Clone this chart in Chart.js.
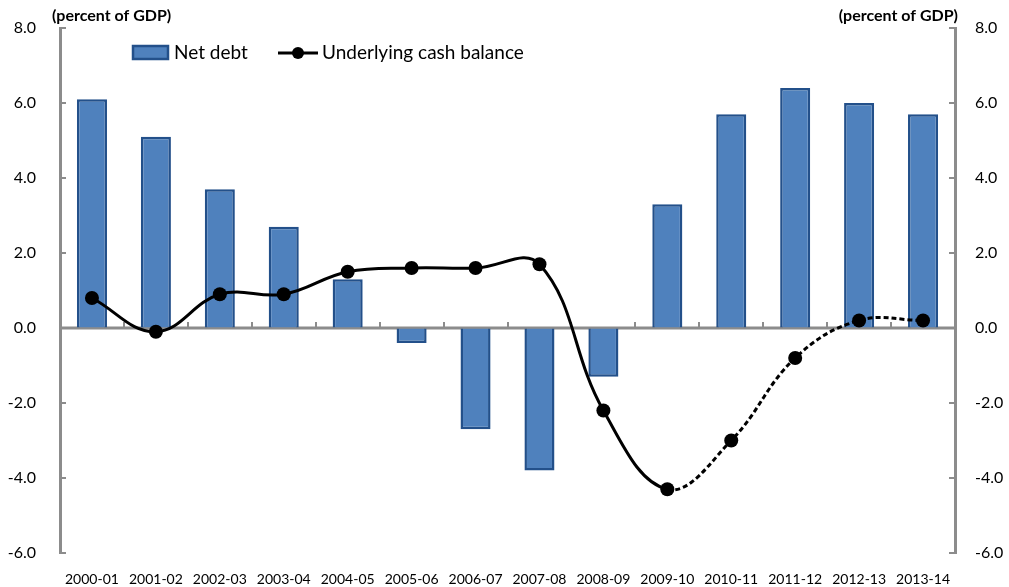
<!DOCTYPE html>
<html>
<head>
<meta charset="utf-8">
<script src="https://cdn.jsdelivr.net/npm/chart.js@4/dist/chart.umd.min.js"></script>
<style>
  html, body { margin: 0; padding: 0; background: #fff; }
  #wrap { position: relative; width: 1009px; height: 587px; }
</style>
</head>
<body>
<div id="wrap"><canvas id="chart" width="1009" height="587"></canvas></div>
<script>
// Fiscal years
const years = ['2000-01', '2001-02', '2002-03', '2003-04', '2004-05', '2005-06', '2006-07',
    '2007-08', '2008-09', '2009-10', '2010-11', '2011-12', '2012-13', '2013-14'];

// Net debt (percent of GDP)
const netDebt = [6.1, 5.1, 3.7, 2.7, 1.3, -0.4, -2.7, -3.8, -1.3, 3.3, 5.7, 6.4, 6.0, 5.7];

// Underlying cash balance (percent of GDP); projections from 2009-10 on are dashed
const cashBalance = [0.8, -0.1, 0.9, 0.9, 1.5, 1.6, 1.6, 1.7, -2.2, -4.3, -3.0, -0.8, 0.2, 0.2];
const projectionStart = 9;

const yTicks = [8, 6, 4, 2, 0, -2, -4, -6];

const axisGrey = '#8c8c8c';
const barFill = '#4F81BD';
const barEdge = '#23508A';
const fontFamily = 'Lato, "Open Sans", sans-serif';

// Extra drawing: zero axis, inward ticks, titles and legend
const decorations = {
    id: 'decorations',
    beforeDatasetsDraw(chart) {
        const ctx = chart.ctx;
        const area = chart.chartArea;
        const y = chart.scales.y;
        const zero = y.getPixelForValue(0);
        ctx.save();
        ctx.strokeStyle = axisGrey;
        ctx.lineWidth = 3;
        ctx.beginPath();
        ctx.moveTo(area.left, zero);
        ctx.lineTo(area.right, zero);
        ctx.stroke();

        // category boundary ticks on the zero line
        ctx.lineWidth = 2;
        const step = (area.right - area.left) / years.length;
        for (let i = 1; i < years.length; i++) {
            const px = Math.round(area.left + i * step);
            ctx.beginPath();
            ctx.moveTo(px, zero);
            ctx.lineTo(px, zero - 6);
            ctx.stroke();
        }

        // inward ticks on both value axes
        yTicks.forEach(v => {
            const py = Math.round(y.getPixelForValue(v));
            ctx.beginPath();
            ctx.moveTo(area.left, py);
            ctx.lineTo(area.left + 6, py);
            ctx.moveTo(area.right, py);
            ctx.lineTo(area.right - 6, py);
            ctx.stroke();
        });
        ctx.restore();
    },
    afterDraw(chart) {
        const ctx = chart.ctx;
        ctx.save();
        ctx.fillStyle = '#000';
        ctx.font = 'bold 16px ' + fontFamily;
        ctx.textBaseline = 'middle';
        ctx.textAlign = 'left';
        ctx.fillText('(percent of GDP)', 52, 16);
        ctx.textAlign = 'right';
        ctx.fillText('(percent of GDP)', 958, 16);

        // legend
        ctx.textAlign = 'left';
        ctx.font = '19px ' + fontFamily;
        ctx.fillStyle = barFill;
        ctx.strokeStyle = barEdge;
        ctx.lineWidth = 2.5;
        ctx.fillRect(133, 46, 35, 13);
        ctx.strokeRect(133, 46, 35, 13);
        ctx.fillStyle = '#000';
        ctx.fillText('Net debt', 174, 53);

        ctx.strokeStyle = '#000';
        ctx.lineWidth = 3;
        ctx.beginPath();
        ctx.moveTo(278, 53);
        ctx.lineTo(318, 53);
        ctx.stroke();
        ctx.beginPath();
        ctx.arc(298, 53, 6, 0, Math.PI * 2);
        ctx.fill();
        ctx.fillText('Underlying cash balance', 322, 53);
        ctx.restore();
    }
};

const fitY = width => s => {
    s.width = width;
    s.paddingTop = 0;
    s.paddingBottom = 0;
};

const chart = new Chart(document.getElementById('chart'), {
    type: 'bar',
    data: {
        labels: years,
        datasets: [
            {
                type: 'line',
                label: 'Underlying cash balance',
                data: cashBalance,
                borderColor: '#000',
                backgroundColor: '#000',
                borderWidth: 3,
                tension: 0.4,
                fill: false,
                pointRadius: 7,
                pointBackgroundColor: '#000',
                pointBorderWidth: 0,
                order: 0,
                segment: {
                    borderDash: c => c.p0DataIndex >= projectionStart ? [5, 3] : undefined
                }
            },
            {
                label: 'Net debt',
                data: netDebt,
                backgroundColor: barFill,
                borderColor: barEdge,
                borderWidth: 2.5,
                barPercentage: 0.94,
                categoryPercentage: 0.5,
                order: 1
            }
        ]
    },
    options: {
        responsive: false,
        animation: false,
        layout: { padding: { top: 28, left: 0, right: 0, bottom: 0 } },
        plugins: {
            legend: { display: false },
            tooltip: { enabled: false }
        },
        scales: {
            x: {
                position: 'bottom',
                grid: { display: false, drawTicks: false },
                border: { display: false },
                ticks: {
                    color: '#000',
                    font: { family: fontFamily, size: 14 },
                    padding: 18,
                    maxRotation: 0,
                    autoSkip: false
                },
                afterFit: s => { s.height = 34; }
            },
            y: {
                position: 'left',
                min: -6,
                max: 8,
                grid: { drawOnChartArea: false, drawTicks: false },
                border: { color: axisGrey, width: 3 },
                ticks: {
                    stepSize: 2,
                    color: '#000',
                    padding: 24,
                    font: { family: fontFamily, size: 16 },
                    callback: v => v.toFixed(1)
                },
                afterFit: fitY(60)
            },
            y2: {
                position: 'right',
                min: -6,
                max: 8,
                grid: { drawOnChartArea: false, drawTicks: false },
                border: { color: axisGrey, width: 3 },
                ticks: {
                    stepSize: 2,
                    color: '#000',
                    padding: 20,
                    font: { family: fontFamily, size: 16 },
                    callback: v => v.toFixed(1)
                },
                afterFit: fitY(54)
            }
        }
    },
    plugins: [decorations]
});
</script>
</body>
</html>
